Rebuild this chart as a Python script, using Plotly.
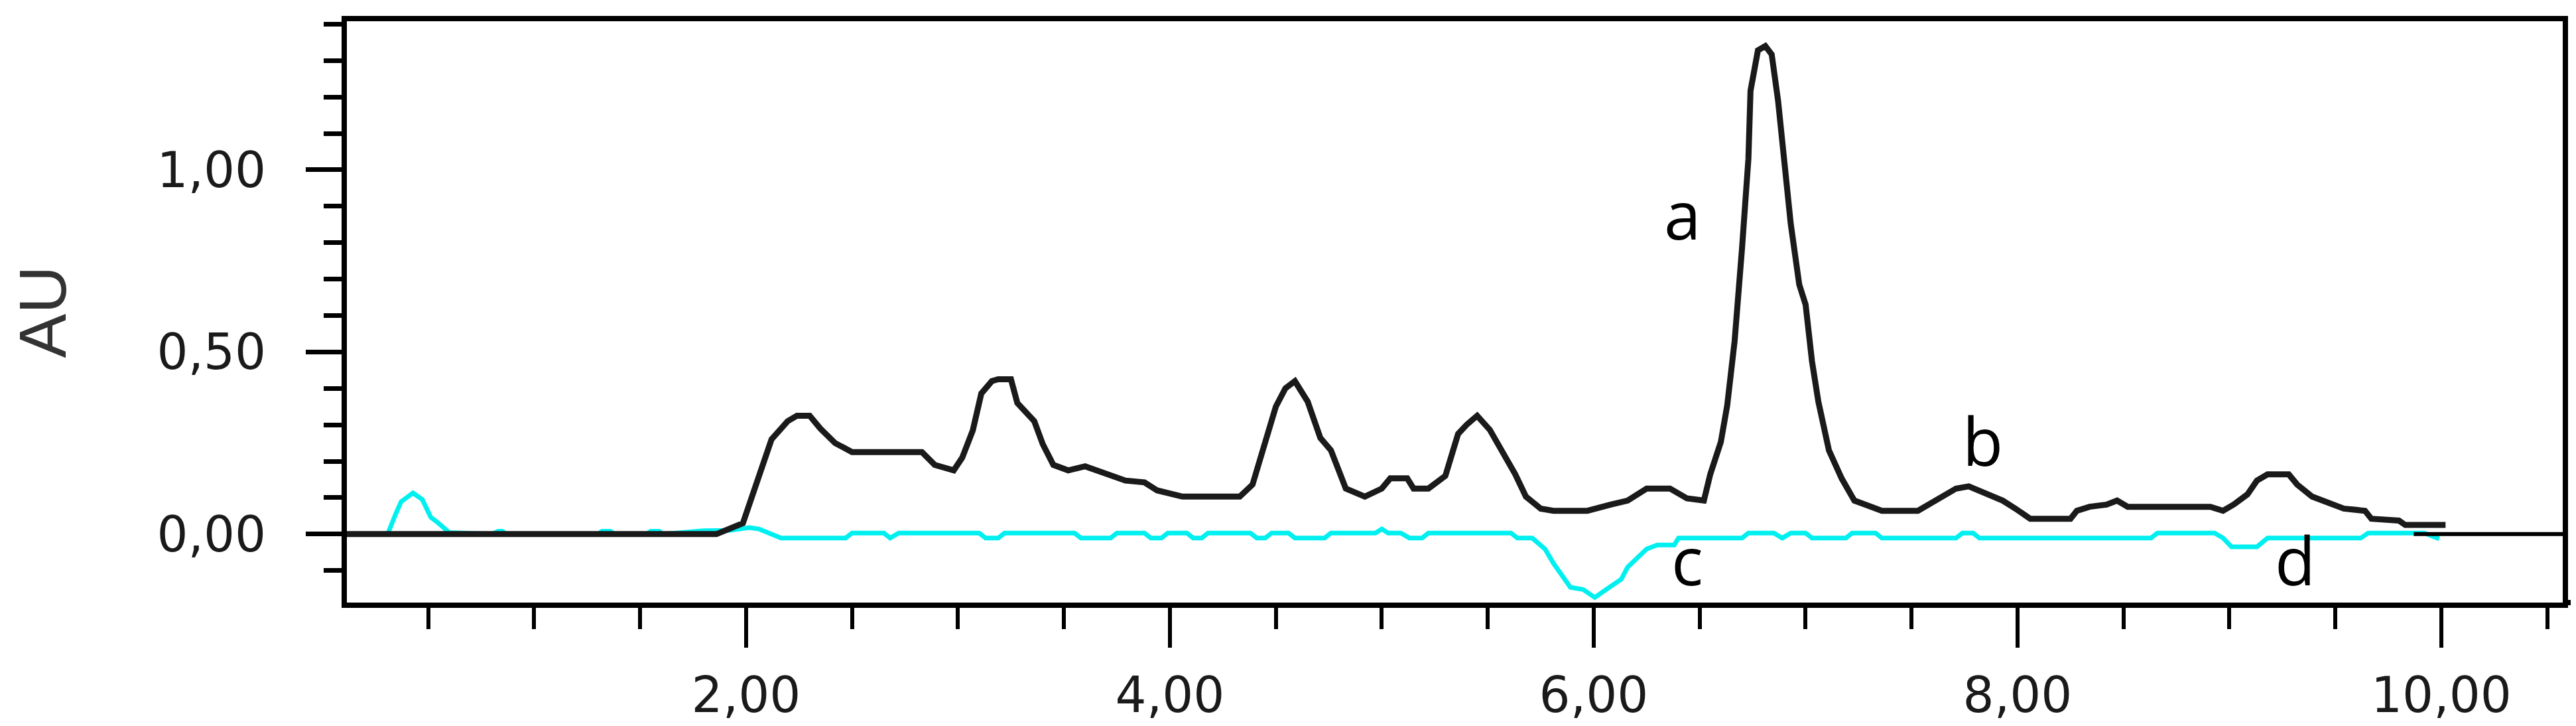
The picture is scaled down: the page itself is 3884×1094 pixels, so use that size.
import plotly.graph_objects as go

# Sample chromatogram (black)
sample_t = [0.10, 1.86, 1.985, 2.075, 2.12, 2.196, 2.24, 2.30, 2.35, 2.42, 2.50, 2.83, 2.89, 2.98,
            3.02, 3.07, 3.11, 3.16, 3.19, 3.25, 3.28, 3.36, 3.40, 3.45, 3.52, 3.60, 3.70, 3.79,
            3.88, 3.94, 4.06, 4.33, 4.39, 4.45, 4.50, 4.545, 4.59, 4.65, 4.71, 4.76, 4.83, 4.92,
            5.00, 5.04, 5.12, 5.15, 5.22, 5.30, 5.36, 5.40, 5.45, 5.51, 5.57, 5.63, 5.68, 5.75,
            5.81, 5.97, 6.08, 6.16, 6.25, 6.36, 6.44, 6.52, 6.55, 6.60, 6.63, 6.665, 6.70, 6.73,
            6.74, 6.775, 6.81, 6.84, 6.87, 6.90, 6.93, 6.97, 7.00, 7.03, 7.06, 7.11, 7.17, 7.23,
            7.30, 7.36, 7.53, 7.61, 7.71, 7.77, 7.84, 7.93, 7.99, 8.06, 8.25, 8.28, 8.34, 8.42,
            8.47, 8.52, 8.91, 8.97, 9.02, 9.085, 9.13, 9.18, 9.28, 9.32, 9.39, 9.48, 9.54, 9.64,
            9.67, 9.80, 9.83, 10.02]
sample_au = [0.0, 0.0, 0.03, 0.19, 0.26, 0.31, 0.325, 0.325, 0.29, 0.25, 0.225, 0.225, 0.19, 0.175,
             0.21, 0.285, 0.386, 0.42, 0.425, 0.425, 0.36, 0.31, 0.247, 0.19, 0.175, 0.186, 0.164, 0.147,
             0.142, 0.12, 0.103, 0.103, 0.136, 0.258, 0.35, 0.40, 0.42, 0.364, 0.264, 0.23, 0.125, 0.103,
             0.125, 0.153, 0.153, 0.125, 0.125, 0.16, 0.275, 0.30, 0.325, 0.286, 0.225, 0.164, 0.103, 0.07,
             0.064, 0.064, 0.081, 0.092, 0.125, 0.125, 0.098, 0.092, 0.164, 0.253, 0.353, 0.53, 0.785, 1.03,
             1.217, 1.328, 1.34, 1.317, 1.19, 1.034, 0.851, 0.685, 0.63, 0.475, 0.364, 0.23, 0.153, 0.092,
             0.075, 0.064, 0.064, 0.092, 0.125, 0.131, 0.114, 0.092, 0.07, 0.042, 0.042, 0.064, 0.075, 0.081,
             0.092, 0.075, 0.075, 0.064, 0.081, 0.109, 0.147, 0.164, 0.164, 0.136, 0.103, 0.081, 0.07, 0.064,
             0.042, 0.037, 0.025, 0.025]

# Blank chromatogram (cyan)
blank_t = [0.29, 0.31, 0.344, 0.372, 0.428, 0.472, 0.512, 0.54, 0.60, 0.80, 0.83, 0.85, 0.87, 0.90,
           1.30, 1.32, 1.34, 1.36, 1.38, 1.53, 1.55, 1.57, 1.59, 1.61, 1.80, 1.92, 2.015, 2.06, 2.105,
           2.165, 2.47, 2.50, 2.65, 2.68, 2.72, 3.10, 3.13, 3.19, 3.22, 3.55, 3.58, 3.72, 3.75, 3.88,
           3.91, 3.96, 3.99, 4.08, 4.11, 4.15, 4.18, 4.38, 4.41, 4.45, 4.48, 4.56, 4.59, 4.73, 4.76,
           4.97, 5.00, 5.03, 5.09, 5.13, 5.19, 5.22, 5.61, 5.64, 5.71, 5.77, 5.81, 5.86, 5.89, 5.95,
           6.005, 6.06, 6.13, 6.16, 6.19, 6.25, 6.30, 6.38, 6.40, 6.70, 6.73, 6.85, 6.89, 6.93, 7.00,
           7.03, 7.19, 7.22, 7.33, 7.36, 7.71, 7.74, 7.79, 7.82, 8.63, 8.66, 8.93, 8.97, 9.01, 9.13,
           9.18, 9.62, 9.655, 9.92, 9.99]
blank_au = [0.0, 0.002, 0.052, 0.089, 0.113, 0.095, 0.046, 0.034, 0.004, 0.0, 0.008, 0.008, 0.0, 0.0,
            0.0, 0.008, 0.008, 0.008, 0.0, 0.0, 0.008, 0.008, 0.008, 0.0, 0.009, 0.01, 0.018, 0.014, 0.003,
            -0.011, -0.011, 0.003, 0.003, -0.011, 0.003, 0.003, -0.011, -0.011, 0.003, 0.003, -0.011, -0.011, 0.003, 0.003,
            -0.011, -0.011, 0.003, 0.003, -0.011, -0.011, 0.003, 0.003, -0.011, -0.011, 0.003, 0.003, -0.011, -0.011, 0.003,
            0.003, 0.014, 0.003, 0.003, -0.011, -0.011, 0.003, 0.003, -0.011, -0.011, -0.041, -0.08, -0.124, -0.146, -0.152,
            -0.174, -0.152, -0.124, -0.091, -0.074, -0.041, -0.03, -0.03, -0.011, -0.011, 0.003, 0.003, -0.011, 0.003, 0.003,
            -0.011, -0.011, 0.003, 0.003, -0.011, -0.011, 0.003, 0.003, -0.011, -0.011, 0.003, 0.003, -0.011, -0.035, -0.035,
            -0.011, -0.011, 0.003, 0.003, -0.013]

# Peak labels
label_text = ["a", "b", "c", "d"]
label_t = [6.42, 7.835, 6.44, 9.31]
label_au = [0.88, 0.258, -0.07, -0.07]

# Start of the trailing baseline segment (drawn at 0 AU up to the right border)
baseline_start = 9.87

fig = go.Figure()
fig.add_trace(go.Scatter(x=blank_t, y=blank_au, mode="lines",
                         line=dict(color="#00f0f0", width=7), showlegend=False))
fig.add_trace(go.Scatter(x=sample_t, y=sample_au, mode="lines",
                         line=dict(color="#1a1a1a", width=9), showlegend=False))

for txt, xv, yv in zip(label_text, label_t, label_au):
    fig.add_annotation(x=xv, y=yv, text=txt, showarrow=False,
                       font=dict(family="Open Sans", size=100, color="black"),
                       xanchor="center", yanchor="middle")

tickfont = dict(family="DejaVu Sans", size=74, color="#1a1a1a")

fig.update_layout(
    width=3884, height=1094,
    margin=dict(l=515, r=28, t=24, b=154),
    paper_bgcolor="white", plot_bgcolor="white",
    separators=",.",
    xaxis=dict(range=[0.116, 10.573], tick0=0, dtick=2, tickformat=".2f",
               showgrid=False, zeroline=False,
               showline=True, linecolor="black", linewidth=8, mirror=True,
               ticks="outside", ticklen=60, tickwidth=6, tickcolor="black",
               tickfont=tickfont, ticklabelstandoff=8,
               minor=dict(dtick=0.5, tick0=0, ticks="outside", ticklen=32,
                          tickwidth=6, tickcolor="black", showgrid=False)),
    yaxis=dict(range=[-0.188, 1.408], tick0=0, dtick=0.5, tickformat=".2f",
               showgrid=False, zeroline=False,
               showline=True, linecolor="black", linewidth=8, mirror=True,
               ticks="outside", ticklen=54, tickwidth=7, tickcolor="black",
               tickfont=tickfont, ticklabelstandoff=45,
               title=dict(text="AU", standoff=120,
                          font=dict(family="Liberation Sans", size=100, color="#333333")),
               minor=dict(dtick=0.1, tick0=0, ticks="outside", ticklen=27,
                          tickwidth=7, tickcolor="black", showgrid=False)),
)

# trailing baseline from the end of the run to the right border
fig.add_shape(type="line", xref="x", yref="y", x0=baseline_start, x1=10.573, y0=0, y1=0,
              line=dict(color="black", width=6))
# bottom axis runs slightly past the right border
fig.add_shape(type="line", xref="paper", yref="paper", x0=1, x1=1.01, y0=0, y1=0,
              line=dict(color="black", width=8))

fig.write_html("out.html")
